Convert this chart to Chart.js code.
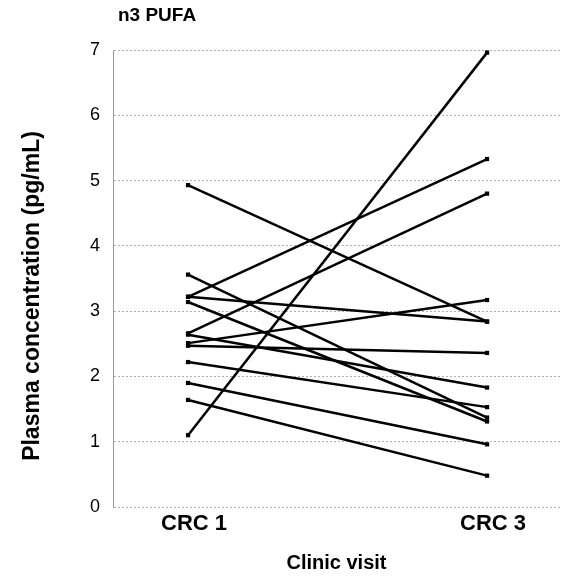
<!DOCTYPE html>
<html>
<head>
<meta charset="utf-8">
<script src="https://cdn.jsdelivr.net/npm/chart.js@4"></script>
<style>
  html, body { margin: 0; padding: 0; background: #fff; }
  #wrap { width: 564px; height: 577px; }
</style>
</head>
<body>
<div id="wrap"><canvas id="pufaChart"></canvas></div>
<script>
// Clinic visits on the x axis
const visits = ['CRC 1', 'CRC 3'];
// Plasma concentration (pg/mL) per subject at each visit
const crc1Values = [1.10, 4.93, 3.22, 2.66, 2.51, 3.22, 2.47, 2.64, 2.22, 3.56, 3.14, 1.90, 1.64];
const crc3Values = [6.96, 2.84, 5.33, 4.80, 3.17, 2.84, 2.36, 1.83, 1.53, 1.37, 1.31, 0.96, 0.48];
const yTicks = [0, 1, 2, 3, 4, 5, 6, 7];

const FONT = 'Arial, "Liberation Sans", sans-serif';

// one dataset per subject, joining the two visits
const datasets = crc1Values.map((v, i) => ({
    data: [{ x: 0, y: v }, { x: 1, y: crc3Values[i] }],
    showLine: true,
    borderColor: '#000',
    backgroundColor: '#000',
    borderWidth: 2.5,
    pointStyle: 'rect',
    pointRadius: 3,
    pointBorderWidth: 0
}));

// chart heading at the top left and the y axis title (sits a bit low in the original)
const textPlugin = {
    id: 'extraText',
    afterDraw(chart) {
        const ctx = chart.ctx;
        ctx.save();
        ctx.fillStyle = '#000';
        ctx.textBaseline = 'middle';
        ctx.font = 'bold 19px ' + FONT;
        ctx.fillText('n3 PUFA', chart.chartArea.left + 5, 16);

        ctx.translate(33, 296);
        ctx.rotate(-Math.PI / 2);
        ctx.textAlign = 'center';
        ctx.font = 'bold 23px ' + FONT;
        ctx.fillText('Plasma concentration (pg/mL)', 0, 0);
        ctx.restore();
    }
};

new Chart(document.getElementById('pufaChart'), {
    type: 'scatter',
    data: { datasets: datasets },
    plugins: [textPlugin],
    options: {
        responsive: true,
        maintainAspectRatio: false,
        animation: false,
        layout: { padding: { top: 50, right: 4, left: 0, bottom: 0 } },
        plugins: {
            legend: { display: false },
            title: { display: false },
            tooltip: { enabled: false }
        },
        scales: {
            x: {
                type: 'linear',
                min: -0.251,
                max: 1.244,
                afterBuildTicks: s => { s.ticks = visits.map((_, i) => ({ value: i })); },
                afterFit: s => { s.height = 70; },
                ticks: {
                    callback: v => visits[v],
                    color: '#000',
                    font: { family: FONT, size: 22, weight: 'bold' },
                    padding: 4,
                    labelOffset: 6,
                    maxRotation: 0
                },
                grid: { display: false, drawTicks: false },
                border: { display: false },
                title: {
                    display: true,
                    text: 'Clinic visit',
                    color: '#000',
                    font: { family: FONT, size: 20, weight: 'bold' },
                    padding: { top: 0, bottom: 2 }
                }
            },
            y: {
                min: 0,
                max: 7,
                afterBuildTicks: s => { s.ticks = yTicks.map(v => ({ value: v })); },
                afterFit: s => { s.width = 113; },
                ticks: {
                    color: '#000',
                    font: { family: FONT, size: 18 },
                    padding: 13
                },
                grid: {
                    color: '#b0b0b0',
                    lineWidth: 1,
                    drawTicks: false
                },
                border: { display: true, color: '#999', width: 1, dash: [2, 2] },
                title: { display: false }
            }
        }
    }
});
</script>
</body>
</html>
